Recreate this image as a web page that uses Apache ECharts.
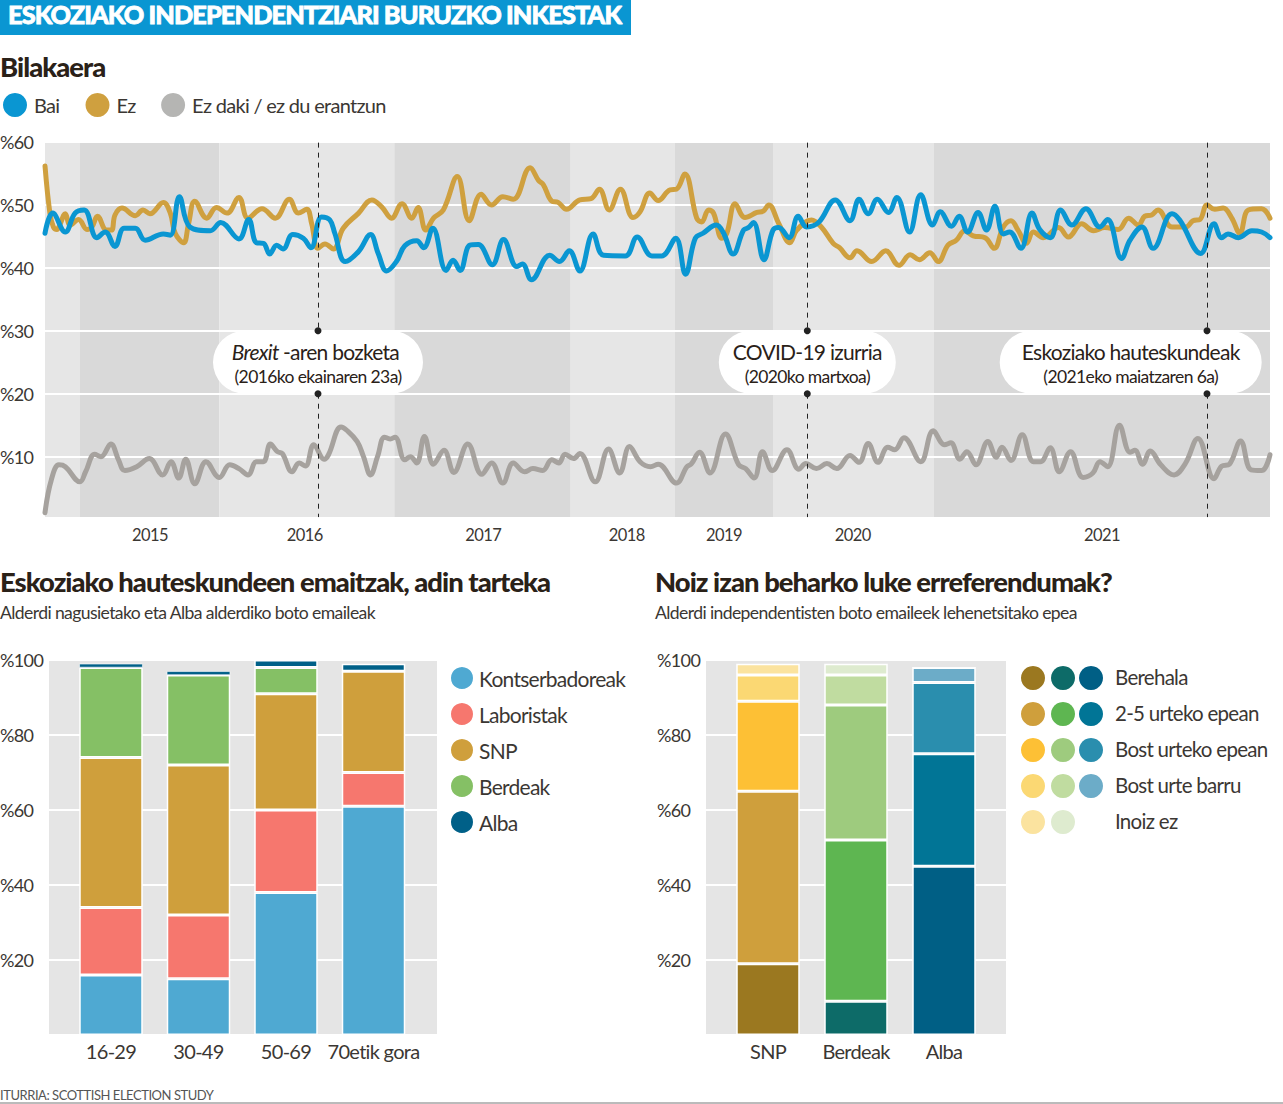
<!DOCTYPE html>
<html>
<head>
<meta charset="utf-8">
<title>Eskoziako independentziari buruzko inkestak</title>
<script src="https://cdn.jsdelivr.net/npm/echarts@6/dist/echarts.min.js"></script>
<style>
    html, body { margin: 0; padding: 0; background: #fff; }
    #main { width: 1283px; height: 1104px; }
    /* the newspaper setting is tight */
    #main text { letter-spacing: -0.035em; }
</style>
</head>
<body>
<div id="main"></div>
<script>
// Top chart: poll number along the timeline, percent
const baiPolls = [[0,45.5],[1.1,48.7],[2.9,45.7],[4.3,48.7],[5.6,49.2],[7.4,44.8],[8.6,45.7],[10,43.4],[11.3,46.3],[12.9,46.3],[14.3,44.4],[16.9,45.4],[17.9,45.2],[19.2,51.3],[20.7,46.5],[23.6,45.9],[25.1,47.2],[27.7,44.6],[29.1,47.7],[30.2,44],[31.2,43.9],[32.1,42.2],[33.1,43.6],[34,43],[35.4,45.3],[36.9,44.7],[38,43.2],[39.5,48.1],[40.7,47.6],[41.4,45.5],[42.9,41],[44.8,42.6],[46.5,45.3],[47.6,42.3],[48.8,39.5],[50.2,41],[51.4,43.5],[53.1,44.3],[54.1,43.2],[55.4,46.3],[57.3,39.6],[58.3,41.2],[59.3,39.6],[60.7,43.6],[61.9,43.7],[63.9,40.5],[65.5,44.5],[67.4,40.2],[68.2,40.6],[69.5,38.1],[72.1,42],[73.5,41],[74.9,42.7],[76.4,39.5],[78.3,45.4],[79.8,42],[82.9,41.9],[84.6,44.9],[86.7,41.9],[88.1,41.9],[90.1,44.7],[91.5,39],[92.9,44.7],[94,45.5],[95.9,46.8],[96.9,45.6],[98.3,42.2],[99.8,46],[100.5,46.4],[101.2,47.2],[102.7,41.3],[104,46],[104.8,46.4],[106.3,44.8],[107.6,48.2],[108.8,46.5],[110.5,47.2],[112.9,50.8],[115,47.5],[116.3,50.9],[117.6,48.6],[118.9,50.9],[120.5,48.8],[121.7,51.2],[123.5,45.7],[125.1,51.6],[126.8,46.8],[127.9,48.9],[129.5,46.6],[130.6,48.2],[131.8,45.7],[133.3,48.8],[134.5,46],[135.7,49.8],[136.9,45.4],[137.8,45.7],[139.4,43.1],[141,48.7],[142.1,46.1],[143.6,44.8],[145.1,49.2],[146.7,46.8],[148.7,49.4],[150.7,46.5],[151.8,47.7],[153.8,41.5],[155,44.4],[156.7,46.5],[158.3,43.1],[161,48.6],[162.1,47.6],[165.1,42.3],[167,47],[168.1,44.8],[169,45.4],[170.5,44.8],[172.4,45.9],[173.8,45.7],[175,44.8]];
const ezPolls = [[0,56.2],[0.7,48.7],[1.2,46.5],[1.7,46.1],[2.1,46.8],[2.9,48.6],[3.6,46.8],[4.8,47.7],[6,46.1],[6.7,46.5],[7.5,48.2],[8.8,46],[9.5,46],[10,48.4],[11,49.5],[12.9,48.3],[14,49.2],[15,48.6],[16.9,50.4],[17.9,48.7],[18.6,45.5],[19.8,44],[20.5,47],[21.4,50.6],[23.1,47.9],[24.5,49.6],[26,48.7],[27.7,51.2],[29,47.9],[31,49.4],[32.9,47.9],[34.9,50.9],[36.2,48.7],[37.4,49.3],[38.1,47],[39,43.1],[40,43.8],[41.2,43],[42.6,46.3],[44.8,48.7],[46.7,50.8],[48.1,49.7],[49.5,47.9],[51,50.2],[52.4,47.9],[53.3,49.6],[54.4,46],[55.5,47.9],[56.9,49.2],[58.9,54.5],[60.6,47.5],[62.3,51.7],[63.8,50],[65.4,51.3],[66.9,50.9],[69.3,55.9],[70.5,53.9],[71.2,53.2],[72.4,50.6],[73.3,50.4],[74.5,49.3],[76.4,50.8],[78,51],[79.2,52.5],[80.6,49.2],[82.2,52.5],[84,48],[85,48.9],[86.4,51.9],[87.6,50.7],[89.3,52.4],[90.2,52.5],[91.4,54.9],[93.1,47.9],[93.8,47.3],[94.8,49.2],[95.5,48.7],[96.7,44.7],[97.4,45.5],[98.6,50.2],[100,48],[101.7,48.8],[102.6,49],[103.4,50],[104.8,47.1],[106.4,44],[107.4,46],[109.5,47.6],[110.9,46.5],[112.6,43.9],[113.5,43.2],[115,41.6],[116,42.7],[118.1,41],[120.1,42.7],[122,40.4],[123.6,42.1],[124.9,41.3],[126.4,42.4],[127.6,41],[129,43.6],[130.2,44.4],[131.4,45.9],[132.6,45.1],[134.3,44.8],[135.6,43.1],[136.9,46.5],[138,47.5],[139,46],[140.2,43.9],[141.2,45.7],[142.6,44.8],[144.8,46.4],[146.2,44.9],[148.1,47],[149.8,45.9],[151.4,46.4],[153.3,46.1],[154.8,47.9],[156.2,46.8],[157.1,48.2],[158.1,48.4],[159,49.2],[161,46.5],[163,46.5],[164,47.5],[165,47.7],[166,50],[167.1,49.3],[168.3,49.5],[169.5,48],[170.7,45.5],[171.9,49.2],[173.8,49.4],[175,47.9]];
const ezDakiPolls = [[0,1.1],[0.9,6.3],[2,8.7],[2.9,8.4],[5,6],[5.8,7.6],[7.1,10.4],[8,10],[9.4,12],[10.5,9.5],[11.4,7.8],[13.1,8.4],[14.9,9.7],[16.8,7.1],[18,9.2],[19.1,6.6],[20.1,9.6],[21.4,5.7],[23,9.2],[24.9,6.7],[26.4,8.7],[27.7,8.1],[29,7.1],[30.2,9.2],[31.2,9.2],[32.2,12],[33.2,10.8],[33.9,10.5],[35.3,7.6],[36.3,9],[37.2,8.5],[38.4,11.9],[39.9,9.6],[40.5,10.3],[42.3,14.7],[43.1,14.2],[44.6,12.4],[45.5,10],[46.5,7.1],[47.5,10],[48.5,13.1],[49.3,12.8],[50,13.1],[51.4,9.5],[52.2,10],[53.1,9],[54.2,13.2],[55.5,8.8],[57,11],[58.4,7.5],[60.4,12],[62.4,7.2],[63.8,9],[65.4,5.8],[66.9,9],[68.5,7.6],[69.7,8.1],[71.1,7.8],[72.4,9.5],[73.4,9],[74.3,10.4],[75.5,9.7],[76.4,10.5],[78.6,6],[80.5,11.2],[82.1,7.4],[83.5,11.6],[85,9.2],[86.5,8.4],[87.6,8.8],[90.2,5.8],[91.7,8.4],[92.3,8.8],[93.5,10.7],[95,7.4],[97.2,13.6],[99.1,8.7],[100.1,8.1],[101.3,6.6],[102.5,10.8],[103.9,7.8],[106,11.1],[107.7,8],[108.7,8.9],[110.2,8.1],[111.7,8.9],[113.1,8.1],[115,10.2],[116.3,9.1],[117.6,12.1],[119,9.1],[120.4,11.5],[121.4,11.1],[122.7,13],[125.1,9.2],[126.9,14.1],[128.5,11.9],[129.4,12.2],[130.7,9.6],[131.7,10.8],[133,8.7],[134.7,12.4],[135.9,9.9],[136.7,11.5],[138,9.4],[139.6,13.5],[141.2,9.2],[142.2,9.2],[143.6,11.4],[144.9,7.6],[146.5,10.8],[148.3,6.7],[149.7,7.4],[150.7,9.2],[151.8,8.4],[153.5,15],[155,10.7],[155.7,11],[156.8,8.8],[157.9,10.9],[159.4,8.7],[161.3,7.1],[162.9,8.9],[164.7,12.9],[167,6.5],[168.1,8.5],[169.2,8.8],[170.8,12.5],[172.3,7.9],[173.8,7.8],[175,10.3]];

// Year bands along the poll axis (first band is the tail of 2014)
const yearEdges = [0, 5, 24.9, 49.9, 75.1, 90, 104, 127, 175];
const yearLabels = ['2015', '2016', '2017', '2018', '2019', '2020', '2021'];
const yearLabelPolls = [15, 37.1, 62.6, 83.1, 97, 115.4, 151];

// Events marked on the timeline
const eventPolls = [39, 108.9, 166];
const calloutPolls = [39, 108.9, 155.1];
const calloutTitles = ['{i|Brexit}{t|-aren bozketa}', '{t|COVID-19 izurria}', '{t|Eskoziako hauteskundeak}'];
const calloutDates = ['(2016ko ekainaren 23a)', '(2020ko martxoa)', '(2021eko maiatzaren 6a)'];

// Election results by age
const ageGroups = ['16-29', '30-49', '50-69', '70etik gora'];
const partyNames = ['Kontserbadoreak', 'Laboristak', 'SNP', 'Berdeak', 'Alba'];
const kontserbadoreak = [16, 15, 38, 61];
const laboristak = [18, 17, 22, 9];
const snp = [40, 40, 31, 27];
const berdeak = [24, 24, 7, 0];
const alba = [1, 1, 2, 2];

// Preferred referendum date by party
const voterGroups = ['SNP', 'Berdeak', 'Alba'];
const periodNames = ['Berehala', '2-5 urteko epean', 'Bost urteko epean', 'Bost urte barru', 'Inoiz ez'];
const berehala = [19, 9, 45];
const urte25 = [46, 43, 30];
const urteko5 = [24, 36, 19];
const urteBarru5 = [7, 8, 4];
const inoizEz = [3, 3, 0];

const FONT = 'Lato';
const INK = '#3b3733';
const DARK = '#2a2118';
const BLUE = '#0a96d2';
const GOLD = '#cfa03f';
const GREY = '#a6a29e';
const BAND_LIGHT = '#e6e6e6';
const BAND_DARK = '#d9d9d9';
const partyColors = ['#4fa9d2', '#f6776e', '#cf9f3c', '#85c065', '#006088'];
const periodColors = [
    ['#9b7820', '#0d6b68', '#005f85'],
    ['#cf9f3c', '#5eb651', '#017596'],
    ['#fdc035', '#9ecb7e', '#2a8eae'],
    ['#fbd873', '#c0dca0', '#6cacc8'],
    ['#fbe39f', '#deebcf']
];
const calloutWidths = [210, 177, 262];

const yearBands = yearEdges.slice(0, -1).map((start, i) => [
    { xAxis: start, yAxis: 0.4, itemStyle: { color: i % 2 ? BAND_DARK : BAND_LIGHT } },
    { xAxis: yearEdges[i + 1], yAxis: 59.9 }
]);

const eventLines = [];
eventPolls.forEach(p => {
    eventLines.push([{ coord: [p, 59.9], symbol: 'none' }, { coord: [p, 30], symbol: 'circle', symbolSize: 7 }]);
    eventLines.push([{ coord: [p, 20], symbol: 'circle', symbolSize: 7 }, { coord: [p, 0.4], symbol: 'none' }]);
});

function pct(v) {
    return v === 0 ? '' : '%' + v;
}

function line_series(name, data, color, swatch, z) {
    return {
        name, type: 'line', data, z,
        xAxisIndex: 0, yAxisIndex: 0,
        smooth: 0.4, showSymbol: false,
        lineStyle: { color, width: 5, join: 'round', cap: 'round' },
        itemStyle: { color: swatch }
    };
}

function stacked_series(name, values, axis, colorOf) {
    return {
        name, type: 'bar', stack: 's' + axis,
        xAxisIndex: axis, yAxisIndex: axis,
        barWidth: 63.5, z: 3,
        itemStyle: { color: colorOf(0), borderColor: '#fff', borderWidth: 1.5 },
        // ECharts pulls the border inside the bar, a 1% slice needs a thinner one to stay visible
        data: values.map((v, i) => ({
            value: v,
            itemStyle: { color: colorOf(i), borderWidth: v < 2 ? 0.6 : 1.5 }
        }))
    };
}

// The grey panel of a bar chart is wider than its categories, so panel and bars have a grid each
function hidden_x(gridIndex) {
    return { type: 'value', gridIndex, min: 0, max: 1, show: false };
}

function panel_y(gridIndex) {
    return {
        type: 'value', gridIndex, min: 0, max: 100, interval: 20,
        axisLine: { show: false }, axisTick: { show: false },
        splitLine: { lineStyle: { color: '#fff', width: 2 } },
        axisLabel: { formatter: pct, color: INK, fontFamily: FONT, fontSize: 18, margin: 49, align: 'left' }
    };
}

function bars_x(gridIndex, names) {
    return {
        type: 'category', gridIndex, data: names,
        axisLine: { show: false }, axisTick: { show: false },
        axisLabel: { interval: 0, color: INK, fontFamily: FONT, fontSize: 20, margin: 6 }
    };
}

function bars_y(gridIndex) {
    return { type: 'value', gridIndex, min: 0, max: 100, interval: 20, show: false, splitLine: { show: false } };
}

// Legend of the right chart has one dot per party, so it is drawn by hand
const dotColumns = [1033, 1063, 1091];
const dotRows = [678, 714, 750, 786, 822];
const periodLegend = [];
periodNames.forEach((name, r) => {
    periodColors[r].forEach((color, c) => {
        periodLegend.push({ type: 'circle', shape: { cx: dotColumns[c], cy: dotRows[r], r: 12 }, style: { fill: color } });
    });
    periodLegend.push({
        type: 'text', x: 1115, y: dotRows[r] - 1,
        style: { text: name, fill: INK, font: '20.5px ' + FONT, textVerticalAlign: 'middle' }
    });
});

const allParties = [kontserbadoreak, laboristak, snp, berdeak, alba];
const allPeriods = [berehala, urte25, urteko5, urteBarru5, inoizEz];

function title_item(text, left, top, color, fontWeight, fontSize, extra) {
    return { text, left, top, padding: 0, textStyle: { color, fontFamily: FONT, fontWeight, fontSize, ...extra } };
}

const chart = echarts.init(document.getElementById('main'), null, { renderer: 'svg' });
chart.setOption({
    animation: false,
    backgroundColor: '#fff',
    textStyle: { fontFamily: FONT },
    title: [
        title_item('ESKOZIAKO INDEPENDENTZIARI BURUZKO INKESTAK', 8, 1.5, '#fff', 900, 25.3, { textBorderColor: '#fff', textBorderWidth: 0.8 }),
        title_item('Bilakaera', 0, 52.5, DARK, 900, 27.4),
        title_item('Eskoziako hauteskundeen emaitzak, adin tarteka', 0, 567.5, DARK, 900, 27.4),
        title_item('Alderdi nagusietako eta Alba alderdiko boto emaileak', 0, 603, INK, 'normal', 17.6),
        title_item('Noiz izan beharko luke erreferendumak?', 655, 567.5, DARK, 900, 27.4),
        title_item('Alderdi independentisten boto emaileek lehenetsitako epea', 655, 603, INK, 'normal', 17.6),
        title_item('ITURRIA: SCOTTISH ELECTION STUDY', 0, 1088, '#555', 'normal', 13)
    ],
    legend: [
        {
            data: ['Bai', 'Ez', 'Ez daki / ez du erantzun'],
            left: 3, top: 93, padding: 0, icon: 'circle', itemWidth: 24, itemHeight: 24, itemGap: 24,
            textStyle: { color: INK, fontFamily: FONT, fontSize: 20, padding: [0, 0, 0, 2] }
        },
        {
            data: partyNames,
            orient: 'vertical', left: 449, top: 665, padding: 0, icon: 'circle', itemWidth: 24, itemHeight: 24, itemGap: 10,
            textStyle: { color: INK, fontFamily: FONT, fontSize: 21 }
        }
    ],
    graphic: [
        { type: 'rect', z: -1, shape: { x: 0, y: 0, width: 631, height: 35 }, style: { fill: '#0a96d2' } },
        { type: 'line', shape: { x1: 0, y1: 1103, x2: 1283, y2: 1103 }, style: { stroke: '#777', lineWidth: 1 } },
        ...periodLegend
    ],
    grid: [
        { left: 45, top: 142, width: 1225, height: 377.6, outerBoundsMode: 'none' },
        { left: 49, top: 660, width: 388, height: 375, show: true, backgroundColor: '#e5e5e5', borderWidth: 0, outerBoundsMode: 'none' },
        { left: 67.25, top: 660, width: 350, height: 375, outerBoundsMode: 'none' },
        { left: 706, top: 660, width: 300, height: 375, show: true, backgroundColor: '#e5e5e5', borderWidth: 0, outerBoundsMode: 'none' },
        { left: 724, top: 660, width: 264, height: 375, outerBoundsMode: 'none' }
    ],
    xAxis: [
        {
            type: 'value', gridIndex: 0, min: 0, max: 175, z: 1,
            splitLine: { show: false }, axisLine: { show: false }, axisTick: { show: false },
            axisLabel: {
                customValues: yearLabelPolls,
                formatter: v => yearLabels[yearLabelPolls.indexOf(v)],
                color: INK, fontFamily: FONT, fontSize: 16.5, margin: 7
            }
        },
        hidden_x(1), bars_x(2, ageGroups), hidden_x(3), bars_x(4, voterGroups)
    ],
    yAxis: [
        {
            type: 'value', gridIndex: 0, min: 0, max: 60, interval: 10, z: 1,
            axisLine: { show: false }, axisTick: { show: false },
            splitLine: { lineStyle: { color: '#fff', width: 2 } },
            axisLabel: { formatter: pct, color: INK, fontFamily: FONT, fontSize: 18, margin: 45, align: 'left' }
        },
        panel_y(1), bars_y(2), panel_y(3), bars_y(4)
    ],
    series: [
        {
            name: 'bands', type: 'line', data: [], xAxisIndex: 0, yAxisIndex: 0, z: 0,
            markArea: { silent: true, z: 0, data: yearBands }
        },
        line_series('Ez daki / ez du erantzun', ezDakiPolls, GREY, '#b5b5b3', 3),
        line_series('Ez', ezPolls, GOLD, GOLD, 3),
        line_series('Bai', baiPolls, BLUE, BLUE, 4),
        {
            name: 'callouts', type: 'scatter', xAxisIndex: 0, yAxisIndex: 0, z: 5,
            symbolSize: 0,
            itemStyle: { opacity: 1 },
            data: calloutPolls.map((p, i) => ({
                value: [p, 25],
                label: {
                    show: true, position: 'inside',
                    formatter: calloutTitles[i] + '\n{d|' + calloutDates[i] + '}',
                    width: calloutWidths[i], height: 56, padding: [7, 0, 0, 0], borderRadius: 31.5,
                    backgroundColor: '#fff', align: 'center', verticalAlign: 'middle',
                    rich: {
                        // width closes the gap the tighter setting leaves after the italic word
                        i: { fontFamily: FONT, fontSize: 21, fontStyle: 'italic', color: DARK, lineHeight: 28, width: 46 },
                        t: { fontFamily: FONT, fontSize: 21, color: DARK, lineHeight: 28 },
                        d: { fontFamily: FONT, fontSize: 17.5, color: DARK, lineHeight: 22 }
                    }
                }
            }))
        },
        {
            name: 'events', type: 'line', data: [], xAxisIndex: 0, yAxisIndex: 0, z: 6,
            markLine: {
                silent: true, z: 6, animation: false,
                label: { show: false },
                lineStyle: { color: '#222', type: [5, 5], width: 1 },
                itemStyle: { color: '#222' },
                data: eventLines
            }
        },
        ...partyNames.map((name, k) => stacked_series(name, allParties[k], 2, () => partyColors[k])),
        ...periodNames.map((name, k) => stacked_series(name, allPeriods[k], 4, i => periodColors[k][i] || '#fff'))
    ]
});
window.addEventListener('resize', () => { chart.resize() }, false);
</script>
</body>
</html>
